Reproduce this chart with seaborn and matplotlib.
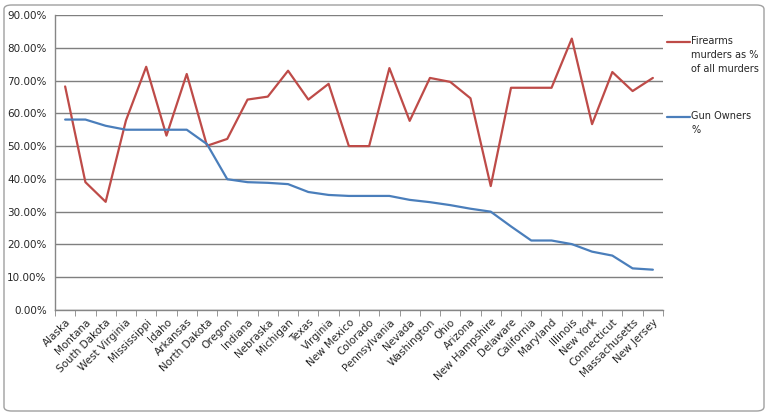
import matplotlib
matplotlib.use("Agg")
import matplotlib.pyplot as plt
import matplotlib.ticker as mticker
import numpy as np
import pandas as pd
import seaborn as sns
from matplotlib.lines import Line2D
from matplotlib.patches import FancyBboxPatch

states = ["Alaska", "Montana", "South Dakota", "West Virginia", "Mississippi", "Idaho",
          "Arkansas", "North Dakota", "Oregon", "Indiana", "Nebraska", "Michigan", "Texas",
          "Virginia", "New Mexico", "Colorado", "Pennsylvania", "Nevada", "Washington",
          "Ohio", "Arizona", "New Hampshire", "Delaware", "California", "Maryland",
          "Illinois", "New York", "Connecticut", "Massachusetts", "New Jersey"]

# firearms murders as % of all murders
firearm_murders = [68.2, 39.0, 33.0, 57.8, 74.2, 53.2, 72.0, 50.1, 52.2, 64.2, 65.1, 73.0,
                   64.2, 69.0, 50.0, 50.0, 73.8, 57.7, 70.8, 69.6, 64.6, 37.8, 67.8, 67.8,
                   67.8, 82.8, 56.7, 72.6, 66.8, 70.8]

# gun owners %
gun_owners = [58.1, 58.1, 56.2, 55.0, 55.0, 55.0, 55.0, 50.6, 39.9, 39.0, 38.8, 38.4,
              36.0, 35.1, 34.8, 34.8, 34.8, 33.6, 32.9, 32.0, 30.9, 30.0, 25.5, 21.2,
              21.2, 20.1, 17.8, 16.6, 12.7, 12.3]

red = "#BE4B48"
blue = "#4A7EBB"

df = pd.DataFrame({"state": states,
                   "firearms": np.array(firearm_murders) / 100,
                   "owners": np.array(gun_owners) / 100})

sns.set_style("white")
plt.rcParams['font.family'] = ['DejaVu Sans']

fig = plt.figure(figsize=(7.68, 4.15), dpi=100)
ax = fig.add_axes([55 / 768, 1 - 310 / 415, 608 / 768, 295 / 415])

sns.lineplot(data=df, x="state", y="firearms", ax=ax, color=red, linewidth=1.6, sort=False)
sns.lineplot(data=df, x="state", y="owners", ax=ax, color=blue, linewidth=1.6, sort=False)

ax.set_xlim(-0.5, len(states) - 0.5)
ax.set_ylim(0, 0.9)
ax.yaxis.set_major_locator(mticker.MultipleLocator(0.1))
ax.yaxis.set_major_formatter(mticker.FuncFormatter(lambda v, p: f"{v*100:.2f}%"))
ax.grid(axis="y", color="#7F7F7F", linewidth=1)
ax.set_axisbelow(True)
ax.set_xlabel("")
ax.set_ylabel("")

for s in ["top", "right"]:
    ax.spines[s].set_visible(False)
for s in ["left", "bottom"]:
    ax.spines[s].set_color("#868686")
    ax.spines[s].set_linewidth(1)

# labels at category centres, tick marks between categories (Excel style)
ax.set_xticks(range(len(states)))
ax.set_xticklabels(states, rotation=45, ha="right", rotation_mode="anchor", fontsize=7.5)
ax.tick_params(axis="x", which="major", length=0, pad=5)
ax.set_xticks(np.arange(-0.5, len(states), 1), minor=True)
ax.tick_params(axis="x", which="minor", bottom=True, length=4, color="#868686", direction="out")
ax.tick_params(axis="y", length=4, color="#868686", direction="out", labelsize=7.5, pad=2)

# legend on the right, Excel style
fig.add_artist(Line2D([667 / 768, 690 / 768], [1 - 42 / 415] * 2, color=red, linewidth=1.6))
fig.text(691 / 768, 1 - 36 / 415, "Firearms\nmurders as %\nof all murders", fontsize=7,
         va="top", ha="left", linespacing=1.5)
fig.add_artist(Line2D([667 / 768, 690 / 768], [1 - 117 / 415] * 2, color=blue, linewidth=1.6))
fig.text(691 / 768, 1 - 111 / 415, "Gun Owners\n%", fontsize=7,
         va="top", ha="left", linespacing=1.5)

# chart area border
fig.add_artist(FancyBboxPatch((4 / 768, 4 / 415), 760 / 768, 406 / 415,
                              boxstyle="round,pad=0,rounding_size=0.01",
                              transform=fig.transFigure, facecolor="none",
                              edgecolor="#A0A0A0", linewidth=1))

fig.savefig("out.png", dpi=100)
